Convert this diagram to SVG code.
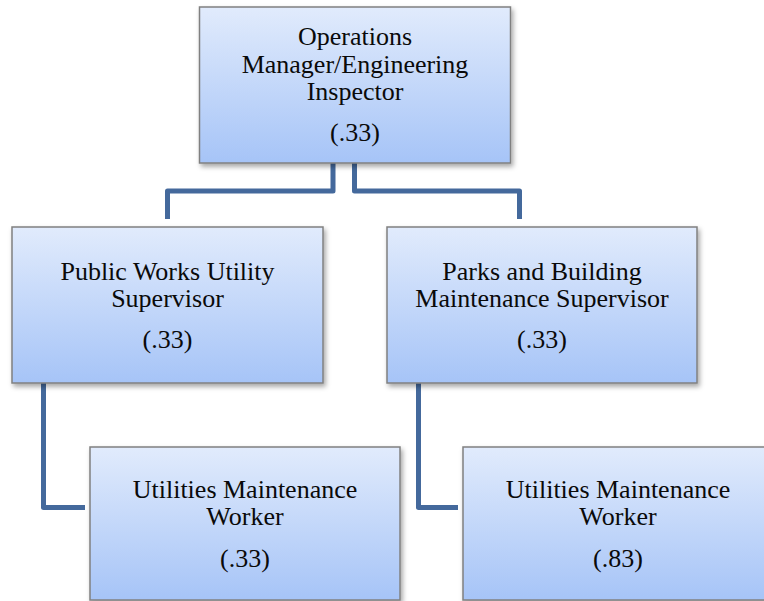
<svg xmlns="http://www.w3.org/2000/svg" width="764" height="601" viewBox="0 0 764 601">
<defs>
<linearGradient id="g" x1="0" y1="0" x2="0" y2="1">
<stop offset="0" stop-color="#e1ebfc"/>
<stop offset="1" stop-color="#a6c4f7"/>
</linearGradient>
<filter id="sh" x="-5%" y="-5%" width="115%" height="120%">
<feDropShadow dx="2" dy="3" stdDeviation="2.5" flood-color="#000" flood-opacity="0.35"/>
</filter>
</defs>
<style>
.box{fill:url(#g);stroke:#808080;stroke-width:1.5;filter:url(#sh)}
.t{font-family:'Liberation Serif','Times New Roman',serif;font-size:26px;fill:#0a0a0a;text-anchor:middle}
.c{fill:none;stroke:#44699c;stroke-width:5;stroke-linejoin:round}
</style>
<rect width="764" height="601" fill="#fff"/>
<g id="connectors">
<path class="c" d="M333,163 V191 H167.5 V219"/>
<path class="c" d="M354.5,163 V191 H519.5 V219"/>
<path class="c" d="M43.5,383 V507.5 H85"/>
<path class="c" d="M418.5,383 V507.5 H458"/>
</g>
<g id="n1">
<rect class="box" x="199.5" y="7" width="311" height="156"/>
<text class="t" x="355" y="45">Operations</text>
<text class="t" x="355" y="73">Manager/Engineering</text>
<text class="t" x="355" y="100">Inspector</text>
<text class="t" x="355" y="141">(.33)</text>
</g>
<g id="n2">
<rect class="box" x="12" y="227" width="311" height="156"/>
<text class="t" x="167.5" y="280">Public Works Utility</text>
<text class="t" x="167.5" y="307">Supervisor</text>
<text class="t" x="167.5" y="348">(.33)</text>
</g>
<g id="n3">
<rect class="box" x="387" y="227" width="310" height="156"/>
<text class="t" x="542" y="280">Parks and Building</text>
<text class="t" x="542" y="307">Maintenance Supervisor</text>
<text class="t" x="542" y="348">(.33)</text>
</g>
<g id="n4">
<rect class="box" x="90" y="447" width="310" height="153"/>
<text class="t" x="245" y="498">Utilities Maintenance</text>
<text class="t" x="245" y="525">Worker</text>
<text class="t" x="245" y="567">(.33)</text>
</g>
<g id="n5">
<rect class="box" x="463" y="447" width="310" height="153"/>
<text class="t" x="618" y="498">Utilities Maintenance</text>
<text class="t" x="618" y="525">Worker</text>
<text class="t" x="618" y="567">(.83)</text>
</g>
</svg>
